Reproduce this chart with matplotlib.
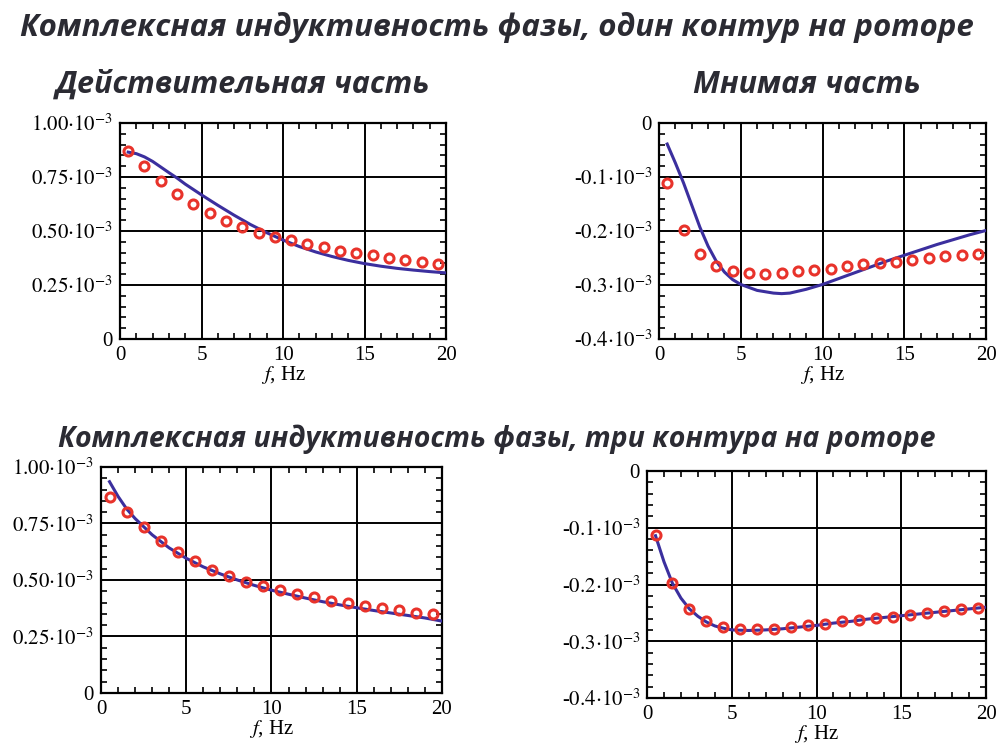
import numpy as np
import matplotlib
matplotlib.use("Agg")
import matplotlib.pyplot as plt
from matplotlib.ticker import FixedLocator, FixedFormatter, MultipleLocator

plt.rcParams['mathtext.fontset'] = 'stix'
plt.rcParams['font.family'] = ['Liberation Serif', 'DejaVu Serif']

# measured points (f, Hz) -- same on both rows
f_meas = [0.5, 1.5, 2.5, 3.5, 4.5, 5.5, 6.5, 7.5, 8.5, 9.5,
          10.5, 11.5, 12.5, 13.5, 14.5, 15.5, 16.5, 17.5, 18.5, 19.5]
re_meas = [0.869, 0.802, 0.733, 0.673, 0.623, 0.582, 0.546, 0.519, 0.492, 0.472,
           0.457, 0.438, 0.424, 0.409, 0.398, 0.387, 0.377, 0.366, 0.356, 0.349]
im_meas = [-0.112, -0.198, -0.243, -0.265, -0.274, -0.278, -0.279, -0.278, -0.275, -0.272,
           -0.270, -0.265, -0.262, -0.259, -0.257, -0.253, -0.250, -0.247, -0.244, -0.242]

# model, one rotor circuit
f_m1 = [0.5, 1, 1.5, 2, 2.5, 3, 3.5, 4, 5, 6, 7, 8, 9, 10, 11, 12, 13, 14, 15, 16, 17, 18, 19, 20]
re_m1 = [0.865, 0.858, 0.843, 0.822, 0.796, 0.770, 0.745, 0.717, 0.667, 0.619, 0.573, 0.530,
         0.492, 0.458, 0.428, 0.403, 0.382, 0.364, 0.349, 0.337, 0.327, 0.319, 0.312, 0.306]
f_m1i = [0.5, 1, 1.5, 2, 2.5, 3, 3.5, 4, 4.5, 5, 6, 7, 7.5, 8, 9, 10, 11, 12, 13, 14, 15, 16, 17, 18, 19, 20]
im_m1 = [-0.039, -0.074, -0.111, -0.152, -0.193, -0.228, -0.256, -0.276, -0.290, -0.299,
         -0.310, -0.315, -0.316, -0.315, -0.308, -0.299, -0.288, -0.277, -0.266, -0.255,
         -0.245, -0.235, -0.225, -0.216, -0.207, -0.199]

# model, three rotor circuits
f_m3 = [0.5, 1, 1.5, 2, 3, 4, 5, 6, 7, 8, 9, 10, 11, 12, 13, 14, 15, 16, 17, 18, 19, 20]
re_m3 = [0.935, 0.870, 0.815, 0.772, 0.700, 0.642, 0.596, 0.558, 0.527, 0.500, 0.476,
         0.455, 0.437, 0.420, 0.404, 0.390, 0.377, 0.365, 0.354, 0.343, 0.332, 0.318]
f_m3i = [0.5, 1, 1.5, 2, 2.5, 3, 3.5, 4, 4.5, 5, 6, 7, 8, 9, 10, 11, 12, 13, 14, 15, 16, 17, 18, 19, 20]
im_m3 = [-0.114, -0.160, -0.198, -0.224, -0.243, -0.256, -0.266, -0.273, -0.277, -0.280,
         -0.281, -0.280, -0.278, -0.275, -0.272, -0.268, -0.265, -0.261, -0.258, -0.255,
         -0.252, -0.249, -0.246, -0.243, -0.240]

re_ticks = [0, 0.25e-3, 0.5e-3, 0.75e-3, 1.0e-3]
re_labels = ['0', r'$0.25{\cdot}10^{-3}$', r'$0.50{\cdot}10^{-3}$', r'$0.75{\cdot}10^{-3}$', r'$1.00{\cdot}10^{-3}$']
im_ticks = [-0.4e-3, -0.3e-3, -0.2e-3, -0.1e-3, 0]
im_labels = [r'-$0.4{\cdot}10^{-3}$', r'-$0.3{\cdot}10^{-3}$', r'-$0.2{\cdot}10^{-3}$', r'-$0.1{\cdot}10^{-3}$', '0']

LINE = '#3b2f9e'
RED = '#e8332b'
TCOL = '#2b2b33'
TFONT = ['Open Sans', 'Liberation Sans', 'DejaVu Sans']

fig = plt.figure(figsize=(9.97, 7.49), dpi=100)

def setup(ax, ticks, labels, ylim, minor):
  ax.set_xlim(0, 20)
  ax.set_ylim(*ylim)
  ax.xaxis.set_major_locator(FixedLocator([0, 5, 10, 15, 20]))
  ax.xaxis.set_minor_locator(MultipleLocator(1))
  ax.yaxis.set_major_locator(FixedLocator(ticks))
  ax.yaxis.set_major_formatter(FixedFormatter(labels))
  ax.yaxis.set_minor_locator(MultipleLocator(minor))
  ax.tick_params(which='both', direction='in', top=True, right=True, labelsize=15, pad=5)
  ax.tick_params(which='major', length=0)
  ax.tick_params(which='minor', length=4, width=1.2)
  ax.grid(True, which='major', color='black', lw=1.4)
  for s in ax.spines.values():
    s.set_linewidth(1.6)
  ax.set_xlabel(r'$f$, Hz', fontsize=15, labelpad=-1)

def draw(ax, fl, yl, fm, ym, scale=1e-3):
  ax.plot(fl, np.array(yl) * scale, color=LINE, lw=2.2, zorder=3)
  ax.plot(fm, np.array(ym) * scale, 'o', ms=6.5, mfc='none', mec=RED, mew=2.2, zorder=4)

ax1 = fig.add_axes([0.1204, 0.5474, 0.327, 0.2884])
draw(ax1, f_m1, re_m1, f_meas, re_meas)
setup(ax1, re_ticks, re_labels, (0, 1.0e-3), 0.05e-3)

ax2 = fig.add_axes([0.661, 0.5474, 0.328, 0.2884])
draw(ax2, f_m1i, im_m1, f_meas, im_meas)
setup(ax2, im_ticks, im_labels, (-0.4e-3, 0), 0.02e-3)

ax3 = fig.add_axes([0.1013, 0.0748, 0.342, 0.3017])
draw(ax3, f_m3, re_m3, f_meas, re_meas)
setup(ax3, re_ticks, re_labels, (0, 1.0e-3), 0.05e-3)

ax4 = fig.add_axes([0.649, 0.0681, 0.340, 0.303])
draw(ax4, f_m3i, im_m3, f_meas, im_meas)
setup(ax4, im_ticks, im_labels, (-0.4e-3, 0), 0.02e-3)

tkw = dict(family=TFONT, weight='bold', style='italic', color=TCOL, ha='center', va='baseline')
fig.text(0.498, 0.952, 'Комплексная индуктивность фазы, один контур на роторе', fontsize=22.5, **tkw)
fig.text(0.244, 0.876, 'Действительная часть', fontsize=22, **tkw)
fig.text(0.809, 0.876, 'Мнимая часть', fontsize=22, **tkw)
fig.text(0.498, 0.403, 'Комплексная индуктивность фазы, три контура на роторе', fontsize=20.5, **tkw)

fig.savefig('out.png', dpi=100)
